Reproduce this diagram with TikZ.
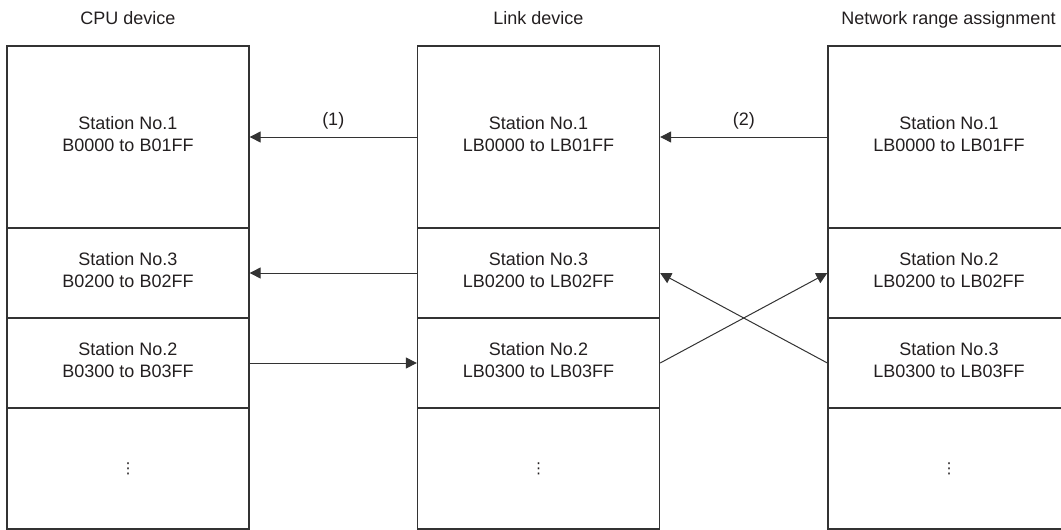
\documentclass[tikz,border=0pt]{standalone}
\usepackage{fontspec}
\setmainfont{Liberation Sans}
\newfontfamily\dotsfont{DejaVu Sans}
\usepackage{xcolor}
\definecolor{map-line}{HTML}{333333}
\definecolor{map-text}{HTML}{231F20}
\usetikzlibrary{arrows.meta}

\begin{document}
\begin{tikzpicture}[x=1pt, y=-1pt,
  cell/.style={draw=map-line, line width=1.3pt, minimum width=242pt, inner sep=0pt,
    align=center, text=map-text, font=\fontsize{18}{22}\selectfont},
  stationcell/.style={cell, execute at end node={\rule[-6pt]{0pt}{6pt}}},
  xfer/.style={draw=map-line, line width=1pt, -{Triangle[length=11pt, width=11pt]}},
  coltitle/.style={anchor=base, text=map-text, font=\fontsize{18}{22}\selectfont},
  tag/.style={above=4pt, text=map-text, font=\fontsize{18}{22}\selectfont}]
  \useasboundingbox (0,0) rectangle (1061,530);
  \clip (0,0) rectangle (1061,530);

  \node[coltitle] (tcpu) at (128,24) {CPU device};
  \node[coltitle] (tlink) at (538.5,24) {Link device};
  \node[coltitle] (tnet) at (948.5,24) {Network range assignment};

  % CPU device
  \node[stationcell, minimum height=182pt] (c1) at (128,137) {Station No.1\\B0000 to B01FF};
  \node[stationcell, minimum height=90pt] (c2) at (128,273) {Station No.3\\B0200 to B02FF};
  \node[stationcell, minimum height=90pt] (c3) at (128,363) {Station No.2\\B0300 to B03FF};

  % Link device
  \node[stationcell, minimum height=182pt] (m1) at (538.5,137) {Station No.1\\LB0000 to LB01FF};
  \node[stationcell, minimum height=90pt] (m2) at (538.5,273) {Station No.3\\LB0200 to LB02FF};
  \node[stationcell, minimum height=90pt] (m3) at (538.5,363) {Station No.2\\LB0300 to LB03FF};

  % Network range assignment
  \node[stationcell, minimum height=182pt] (r1) at (949,137) {Station No.1\\LB0000 to LB01FF};
  \node[stationcell, minimum height=90pt] (r2) at (949,273) {Station No.2\\LB0200 to LB02FF};
  \node[stationcell, minimum height=90pt] (r3) at (949,363) {Station No.3\\LB0300 to LB03FF};

  \foreach \col/\x in {c/128, m/538.5, r/949} {
    \node[cell, minimum height=121pt] (\col4) at (\x,468.5) {\dotsfont\fontsize{15}{15}\selectfont ⋮};
  }

  \draw[xfer] (m1.west) -- (c1.east) node[midway, tag] (n1) {(1)};
  \draw[xfer] (r1.west) -- (m1.east) node[midway, tag] (n2) {(2)};
  \draw[xfer] (m2.west) -- (c2.east);
  \draw[xfer] (c3.east) -- (m3.west);
  \draw[xfer] (m3.east) -- (r2.west);
  \draw[xfer] (r3.west) -- (m2.east);

\end{tikzpicture}
\end{document}
